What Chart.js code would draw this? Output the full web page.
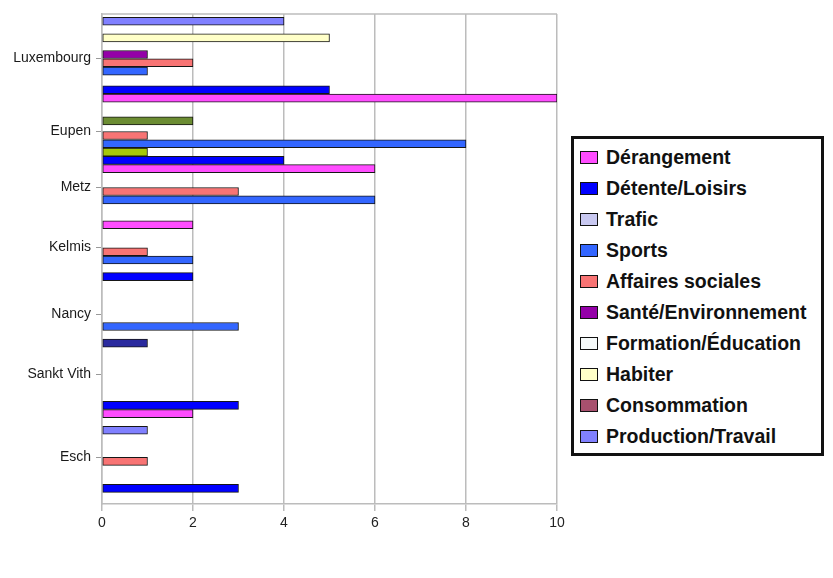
<!DOCTYPE html>
<html>
<head>
<meta charset="utf-8">
<title>Thèmes par ville</title>
<script src="https://cdn.jsdelivr.net/npm/chart.js@4/dist/chart.umd.min.js"></script>
<style>
  html, body { margin: 0; padding: 0; background: #fff; }
  #wrap { position: relative; width: 833px; height: 578px; }
  #legend {
    position: absolute; left: 571px; top: 136px; width: 253px; height: 320px;
    box-sizing: border-box; border: 3px solid #111; background: #fff;
    padding: 3px 0 0 6px;
    font: bold 19.5px "Liberation Sans", Arial, sans-serif; color: #111;
  }
  #legend .item { height: 31px; display: flex; align-items: center; white-space: nowrap; }
  #legend .sw { width: 16px; height: 11px; border: 1px solid #111; margin-right: 8px; flex: none; }
</style>
</head>
<body>
<div id="wrap">
  <canvas id="chart"></canvas>
  <div id="legend"></div>
</div>
<script>
// y axis is a fine row grid; cities sit on some of the rows
const rowCount = 236;
const cities = ['Luxembourg', 'Eupen', 'Metz', 'Kelmis', 'Nancy', 'Sankt Vith', 'Esch'];
const cityRows = [21, 56, 83, 112, 144, 173, 213];

const xMax = 10;
const xStep = 2;

// [row, count] per theme
const derangement = [[40, 10], [74, 6], [101, 2], [192, 2]];
const detenteLoisirs = [[36, 5], [70, 4], [126, 2], [188, 3], [228, 3]];
const trafic = [];
const sports = [[27, 1], [62, 8], [89, 6], [118, 2], [150, 3]];
const affairesSociales = [[23, 2], [58, 1], [85, 3], [114, 1], [215, 1]];
const santeEnvironnement = [[19, 1]];
const formationEducation = [];
const habiter = [[11, 5]];
const consommation = [];
const productionTravail = [[3, 4], [200, 1]];
// bars whose colour has no entry in the legend
const autreVert = [[51, 2]];
const autreVertClair = [[66, 1]];
const autreMarine = [[158, 1]];

const gridColor = '#bcbcbc';

function toRows(pairs) {
  const out = new Array(rowCount).fill(null);
  pairs.forEach(([row, v]) => { out[row] = v; });
  return out;
}

const rowLabels = Array.from({ length: rowCount }, (_, i) => {
  const k = cityRows.indexOf(i);
  return k >= 0 ? cities[k] : '';
});

const themes = [
  { label: 'Dérangement', data: derangement, color: '#ff4cff', legend: true },
  { label: 'Détente/Loisirs', data: detenteLoisirs, color: '#0000ff', legend: true },
  { label: 'Trafic', data: trafic, color: '#c8c8f0', legend: true },
  { label: 'Sports', data: sports, color: '#3366ff', legend: true },
  { label: 'Affaires sociales', data: affairesSociales, color: '#f87474', legend: true },
  { label: 'Santé/Environnement', data: santeEnvironnement, color: '#9400a8', legend: true },
  { label: 'Formation/Éducation', data: formationEducation, color: '#f6fafa', legend: true },
  { label: 'Habiter', data: habiter, color: '#ffffc8', legend: true },
  { label: 'Consommation', data: consommation, color: '#a8506e', legend: true },
  { label: 'Production/Travail', data: productionTravail, color: '#8080ff', legend: true },
  { label: 'Autre (vert)', data: autreVert, color: '#6b8c32', legend: false },
  { label: 'Autre (vert clair)', data: autreVertClair, color: '#a6c80a', legend: false },
  { label: 'Autre (marine)', data: autreMarine, color: '#2a2a9e', legend: false }
];

// top edge of the plot frame
const frameTop = {
  id: 'frameTop',
  beforeDatasetsDraw(chart) {
    const { ctx, chartArea: a } = chart;
    ctx.save();
    ctx.strokeStyle = gridColor;
    ctx.lineWidth = 1.5;
    ctx.beginPath();
    ctx.moveTo(a.left, a.top);
    ctx.lineTo(a.right, a.top);
    ctx.stroke();
    ctx.restore();
  }
};

// boxed legend listing only the named themes
const htmlLegend = {
  id: 'htmlLegend',
  afterUpdate(chart) {
    const box = document.getElementById('legend');
    box.innerHTML = '';
    chart.data.datasets.filter(d => d.legend).forEach(d => {
      const item = document.createElement('div');
      item.className = 'item';
      const sw = document.createElement('span');
      sw.className = 'sw';
      sw.style.background = d.backgroundColor;
      item.appendChild(sw);
      item.appendChild(document.createTextNode(d.label));
      box.appendChild(item);
    });
  }
};

Chart.defaults.font.family = '"Liberation Sans", Arial, sans-serif';

new Chart(document.getElementById('chart'), {
  type: 'bar',
  data: {
    labels: rowLabels,
    datasets: themes.map(t => ({
      label: t.label,
      legend: t.legend,
      data: toRows(t.data),
      backgroundColor: t.color,
      borderColor: '#161616',
      borderWidth: 1,
      borderSkipped: false,
      barThickness: 8,
      grouped: false
    }))
  },
  options: {
    indexAxis: 'y',
    responsive: true,
    maintainAspectRatio: false,
    animation: false,
    layout: { padding: { top: 14, right: 276, bottom: 44, left: 0 } },
    plugins: {
      legend: { display: false },
      tooltip: { enabled: false }
    },
    scales: {
      x: {
        type: 'linear',
        min: 0,
        max: xMax,
        ticks: { stepSize: xStep, padding: 4, color: '#222', font: { size: 14 } },
        grid: { color: gridColor, lineWidth: 1.5, tickLength: 7 },
        border: { color: gridColor, width: 1.5 },
        afterFit(scale) { scale.height = 30; }
      },
      y: {
        type: 'category',
        offset: true,
        ticks: { autoSkip: false, padding: 5, color: '#1a1a1a', font: { size: 14 } },
        grid: {
          offset: false,
          drawOnChartArea: false,
          tickLength: 6,
          color: ctx => (ctx.tick && ctx.tick.label) ? '#999' : 'rgba(0,0,0,0)'
        },
        border: { color: gridColor, width: 1.5 },
        afterFit(scale) { scale.width = 102; }
      }
    }
  },
  plugins: [frameTop, htmlLegend]
});
</script>
</body>
</html>
